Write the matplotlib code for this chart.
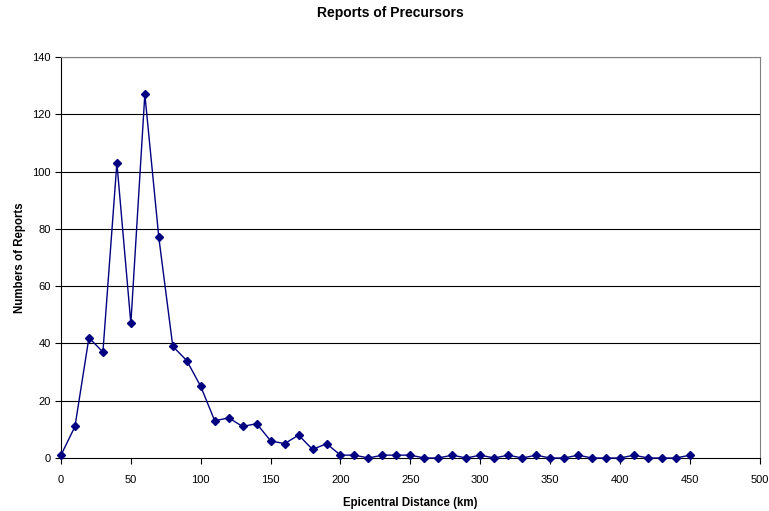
import matplotlib
matplotlib.use("Agg")
import matplotlib.pyplot as plt

plt.rcParams['font.family'] = ['Liberation Sans', 'DejaVu Sans']

distance_km = list(range(0, 460, 10))
reports = [1, 11, 42, 37, 103, 47, 127, 77, 39, 34, 25, 13, 14, 11, 12, 6, 5, 8, 3, 5,
           1, 1, 0, 1, 1, 1, 0, 0, 1, 0, 1, 0, 1, 0, 1, 0, 0, 1, 0, 0,
           0, 1, 0, 0, 0, 1]
x_ticks = [0, 50, 100, 150, 200, 250, 300, 350, 400, 450, 500]
y_ticks = [0, 20, 40, 60, 80, 100, 120, 140]

fig = plt.figure(figsize=(7.69, 5.11), dpi=100)
ax = fig.add_axes([0.0793, 0.1037, 0.9087, 0.7848])

for y in y_ticks[1:]:
    ax.axhline(y, color='black', lw=0.8, zorder=1)

ax.plot(distance_km, reports, color='#000080', lw=1.0, marker='D', markersize=4,
        markerfacecolor='#000080', markeredgecolor='#000080', zorder=3, clip_on=False)

ax.set_xlim(0, 500)
ax.set_ylim(0, 140)
ax.set_xticks(x_ticks)
ax.set_yticks(y_ticks)
ax.tick_params(axis='both', labelsize=8, direction='out', length=4, width=0.8, color='black')
ax.tick_params(axis='x', pad=8)

ax.spines['left'].set_color('black')
ax.spines['bottom'].set_color('black')
ax.spines['top'].set_color('#808080')
ax.spines['right'].set_color('#808080')
for s in ax.spines.values():
    s.set_linewidth(0.8)

ax.set_xlabel('Epicentral Distance (km)', fontsize=8.3, fontweight='bold', labelpad=9)
ax.set_ylabel('Numbers of Reports', fontsize=8.3, fontweight='bold', labelpad=4)
fig.text(390 / 769, 1 - 13 / 511, 'Reports of Precursors', fontsize=10, fontweight='bold',
         ha='center', va='center')

fig.savefig('out.png', dpi=100)
